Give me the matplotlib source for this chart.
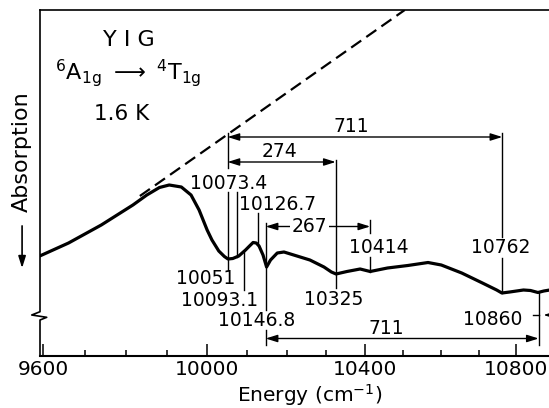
import numpy as np
import matplotlib.pyplot as plt
from matplotlib.ticker import FixedLocator, FixedFormatter, NullFormatter

plt.rcParams['font.family'] = ['DejaVu Sans']
plt.rcParams['mathtext.fontset'] = 'dejavusans'

# %%
# Espectro de absorción (energía en cm-1, absorción en unidades arbitrarias)
energia = [9592, 9661, 9740, 9817, 9851, 9882, 9906, 9936, 9960, 9980,
           10000, 10012, 10029, 10043, 10052, 10064, 10079, 10096, 10106, 10115,
           10123, 10130, 10140, 10149, 10159, 10176, 10193, 10226, 10259, 10295,
           10314, 10326, 10354, 10388, 10414, 10459, 10512, 10565, 10600, 10654,
           10709, 10747, 10761, 10782, 10819, 10838, 10858, 10874, 10890]
absorcion = [1.00, 1.13, 1.31, 1.51, 1.61, 1.685, 1.71, 1.69, 1.61, 1.46,
             1.26, 1.16, 1.05, 0.995, 0.97, 0.975, 1.00, 1.06, 1.10, 1.135,
             1.13, 1.10, 1.01, 0.89, 0.96, 1.03, 1.04, 1.00, 0.96, 0.89,
             0.84, 0.82, 0.845, 0.87, 0.845, 0.88, 0.905, 0.935, 0.91, 0.83,
             0.73, 0.66, 0.63, 0.64, 0.66, 0.655, 0.635, 0.65, 0.66]

# recta de fondo (discontinua)
fondo_e = [9834, 10504]
fondo_a = [1.60, 3.46]

# ticks del eje x
mayores = [9600, 10000, 10400, 10800]
menores = [9700, 9800, 9900, 10100, 10200, 10300, 10500, 10600, 10700]

# líneas verticales de los picos: (energia, desde, hasta); "c" = hasta la curva
segmentos = [
    (10051, 1.88, 2.23),
    (10051, 0.86, 1.64),
    (10073.4, "c", 1.64),
    (10093.1, 0.66, "c"),
    (10126.7, "c", 1.43),
    (10146.8, 0.46, 1.33),
    (10146.8, 0.11, 0.26),
    (10325, 0.68, 1.96),
    (10414, 1.23, 1.36),
    (10414, "c", 0.99),
    (10762, 1.19, 2.23),
    (10762, "c", 0.98),
    (10860, 0.11, "c"),
]

# etiquetas de los picos: (texto, energia, absorcion, alineacion)
etiquetas = [
    ("10073.4", 10054, 1.725, "center"),
    ("10126.7", 10177, 1.51, "center"),
    ("10051", 9996, 0.775, "center"),
    ("10093.1", 10030.5, 0.56, "center"),
    ("10146.8", 10124, 0.36, "center"),
    ("10325", 10320, 0.565, "center"),
    ("10414", 10437, 1.085, "center"),
    ("10762", 10759, 1.085, "center"),
    ("10860", 10817, 0.365, "right"),
]

# cotas: (e1, e2, nivel, texto, e_texto, a_texto)
cotas = [
    (10051, 10762, 2.19, "711", 10364, 2.295),
    (10051, 10325, 1.94, "274", 10182, 2.045),
    (10146.8, 10414, 1.295, "267", 10258, 1.295),
    (10146.8, 10860, 0.175, "711", 10456, 0.27),
]

# %%
fig = plt.figure(figsize=(5.49, 4.08), dpi=100)
ax = fig.add_axes([40 / 549, 52 / 408, 560 / 549, 346 / 408])
ax.set_xscale("log")
ax.set_xlim(9592.6, 11027)
ax.set_ylim(0, 3.46)

ax.plot(energia, absorcion, color="k", lw=2.3, solid_capstyle="round",
        solid_joinstyle="round")
ax.plot(fondo_e, fondo_a, color="k", lw=1.6, dashes=(5.5, 2.8))

lw_fino = 1.0
for e, a0, a1 in segmentos:
    if a0 == "c":
        a0 = np.interp(e, energia, absorcion)
    if a1 == "c":
        a1 = np.interp(e, energia, absorcion)
    ax.plot([e, e], [a0, a1], color="k", lw=lw_fino)

for txt, e, a, ha in etiquetas:
    ax.text(e, a, txt, fontsize=13.5, ha=ha, va="center")

estilo = "<|-|>,head_length=0.7,head_width=0.22"
for e1, e2, a, txt, et, at in cotas:
    ax.annotate("", xy=(e2, a), xytext=(e1, a),
                arrowprops=dict(arrowstyle=estilo, color="k", lw=lw_fino,
                                shrinkA=0, shrinkB=0, mutation_scale=10))
    caja = None
    if txt == "267":
        caja = dict(facecolor="white", edgecolor="none", pad=1.5)
    ax.text(et, at, txt, fontsize=13.5, ha="center", va="center", bbox=caja)

# flecha que sale por la derecha hacia 10860
ax.annotate("", xy=(10873, 0.41), xytext=(10990, 0.41),
            arrowprops=dict(arrowstyle="-|>,head_length=0.7,head_width=0.22",
                            color="k", lw=lw_fino, shrinkA=0, shrinkB=0,
                            mutation_scale=10))
ax.plot([10846, 10860], [0.41, 0.41], color="k", lw=lw_fino)

# ejes
ax.spines["left"].set_visible(False)
ax.spines["right"].set_visible(False)
ax.spines["top"].set_linewidth(1.2)
ax.spines["bottom"].set_linewidth(1.5)
# eje y con corte
xs = [0, 0, -0.0148, 0.012, 0, 0]
ys = [1, 0.128, 0.1185, 0.1118, 0.104, 0]
ax.plot(xs, ys, color="k", lw=1.2, transform=ax.transAxes, clip_on=False)

ax.xaxis.set_major_locator(FixedLocator(mayores))
ax.xaxis.set_major_formatter(FixedFormatter([str(m) for m in mayores]))
ax.xaxis.set_minor_locator(FixedLocator(menores))
ax.xaxis.set_minor_formatter(NullFormatter())
ax.tick_params(axis="x", which="both", direction="in", width=1.1, pad=3,
               labelsize=14.5, top=False)
ax.tick_params(axis="x", which="major", length=8.5)
ax.tick_params(axis="x", which="minor", length=4.5)
ax.set_yticks([])

ax.text(0.482, -0.133, "Energy (cm$^{-1}$)", fontsize=14.5, ha="center",
        va="baseline", transform=ax.transAxes)
ax.text(-0.032, 0.59, "Absorption", fontsize=16, rotation=90, ha="center",
        va="center", transform=ax.transAxes)
ax.annotate("", xy=(-0.032, 0.254), xytext=(-0.032, 0.376),
            xycoords="axes fraction", textcoords="axes fraction",
            arrowprops=dict(arrowstyle="-|>,head_length=0.7,head_width=0.22",
                            color="k", lw=1.2, shrinkA=0, shrinkB=0,
                            mutation_scale=10))

ax.text(0.159, 0.913, "Y I G", fontsize=16, ha="center", va="center",
        transform=ax.transAxes)
ax.text(0.157, 0.818,
        r"$^{6}\mathrm{A}_{\mathrm{1g}}\ \longrightarrow\ ^{4}\mathrm{T}_{\mathrm{1g}}$",
        fontsize=16, ha="center", va="center", transform=ax.transAxes)
ax.text(0.145, 0.698, "1.6 K", fontsize=15.5, ha="center", va="center",
        transform=ax.transAxes)

fig.savefig("out.png", dpi=100)
